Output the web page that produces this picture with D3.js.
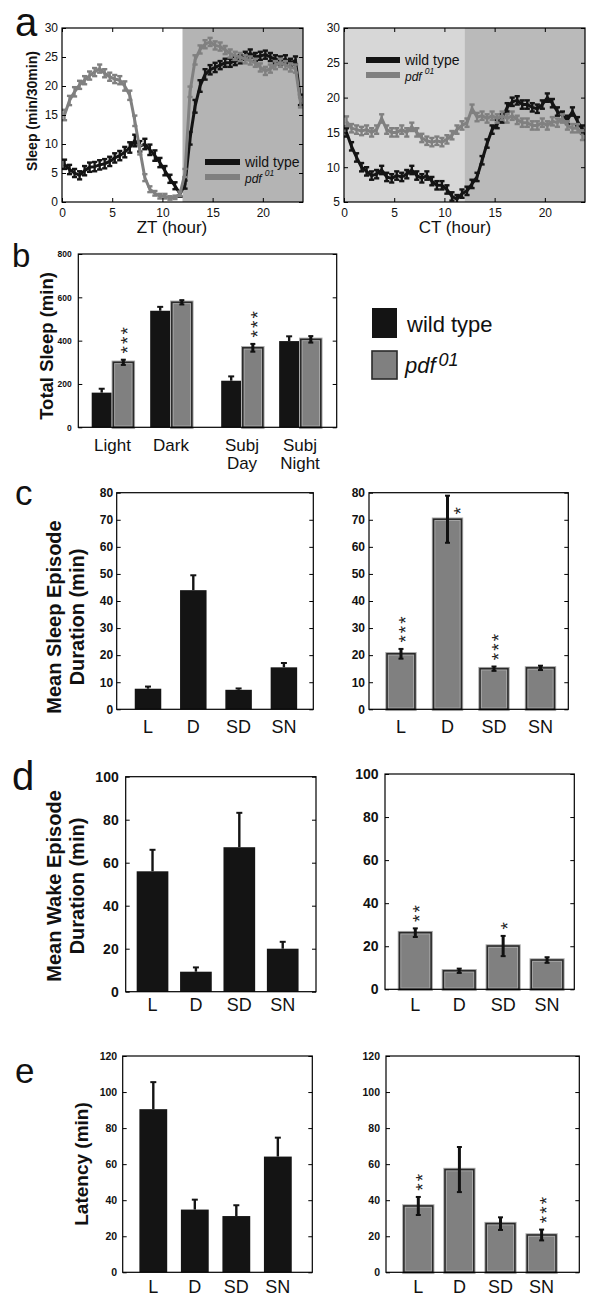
<!DOCTYPE html>
<html><head><meta charset="utf-8">
<script src="https://cdn.jsdelivr.net/npm/d3@7/dist/d3.min.js"></script>
<style>
body{margin:0;background:#fff}
svg{display:block}
text{font-family:"Liberation Sans",Arial,Helvetica,sans-serif}
</style>
</head><body>
<svg id="chart" width="600" height="1307"></svg>
<script>
// ---------------- DATA ----------------
const timeHours = [0.25,0.75,1.25,1.75,2.25,2.75,3.25,3.75,4.25,4.75,5.25,5.75,6.25,6.75,7.25,7.75,8.25,8.75,9.25,9.75,10.25,10.75,11.25,11.75,12.25,12.75,13.25,13.75,14.25,14.75,15.25,15.75,16.25,16.75,17.25,17.75,18.25,18.75,19.25,19.75,20.25,20.75,21.25,21.75,22.25,22.75,23.25,23.75];

const ztWildType = [6.5,5.6,5.0,4.6,5.4,6.0,6.1,6.4,6.6,7.0,7.6,8.0,8.6,9.4,10.6,9.6,10.0,9.0,8.0,6.8,5.4,4.0,2.8,1.4,3.0,11.0,16.5,20.0,22.0,22.8,23.2,23.6,24.0,24.0,24.3,24.6,25.2,25.6,25.0,25.2,25.4,25.0,24.6,24.4,24.6,24.0,24.4,17.6];
const ztWildTypeSem = [0.8,0.8,0.7,0.7,0.8,0.8,0.8,0.8,0.8,0.8,0.8,0.8,0.9,0.9,1.0,0.9,0.9,0.9,0.9,0.8,0.8,0.7,0.6,0.5,0.7,1.1,1.1,1.0,0.9,0.8,0.8,0.7,0.7,0.7,0.7,0.7,0.7,0.7,0.7,0.7,0.7,0.7,0.7,0.7,0.7,0.7,0.7,0.9];
const ztPdf = [15.0,17.5,19.0,20.2,21.0,21.8,22.4,23.0,22.2,21.6,21.2,21.0,20.0,18.4,14.0,9.0,4.2,2.2,1.5,1.0,1.0,0.7,0.8,1.4,5.0,19.0,24.5,26.3,27.2,27.6,27.0,26.8,26.2,25.6,25.2,25.0,24.6,24.4,24.0,23.2,22.6,23.0,23.6,24.0,23.6,23.2,23.0,17.2];
const ztPdfSem = [0.9,0.8,0.8,0.7,0.7,0.7,0.7,0.7,0.7,0.7,0.7,0.7,0.8,0.8,0.9,0.8,0.6,0.5,0.4,0.4,0.4,0.3,0.3,0.4,0.7,0.9,0.8,0.7,0.7,0.7,0.7,0.7,0.7,0.7,0.7,0.7,0.7,0.7,0.7,0.7,0.7,0.7,0.7,0.7,0.7,0.7,0.7,0.9];

const ctWildType = [15.0,13.0,11.4,10.0,9.4,8.8,9.0,9.6,8.6,8.4,8.8,8.6,9.0,9.6,8.8,8.4,8.8,8.0,7.4,7.4,6.8,5.8,5.4,6.2,6.6,7.6,8.6,11.0,13.4,15.4,16.2,17.0,18.6,19.4,19.6,19.0,19.0,18.6,18.4,19.0,20.0,19.2,18.0,17.4,16.8,18.0,16.6,15.4];
const ctWildTypeSem = [0.6,0.6,0.6,0.6,0.6,0.6,0.6,0.6,0.6,0.6,0.6,0.6,0.6,0.6,0.6,0.6,0.6,0.6,0.6,0.6,0.6,0.6,0.6,0.6,0.6,0.6,0.6,0.6,0.6,0.6,0.6,0.6,0.6,0.6,0.6,0.6,0.6,0.6,0.6,0.6,0.6,0.6,0.6,0.6,0.6,0.6,0.6,0.6];
const ctPdf = [16.6,15.6,15.4,15.2,15.4,15.0,15.4,17.0,15.4,15.0,15.0,15.4,15.0,15.8,15.0,14.2,13.8,13.6,13.8,13.6,14.0,14.6,15.4,16.0,16.4,18.4,17.2,17.4,17.0,17.4,17.0,17.4,17.0,17.4,16.8,16.4,16.4,16.0,16.0,16.4,16.0,16.6,16.4,17.0,16.0,15.6,15.6,14.6];
const ctPdfSem = [0.7,0.6,0.6,0.6,0.6,0.6,0.6,0.6,0.6,0.6,0.6,0.6,0.6,0.6,0.6,0.6,0.6,0.6,0.6,0.6,0.6,0.6,0.6,0.6,0.6,0.6,0.6,0.6,0.6,0.6,0.6,0.6,0.6,0.6,0.6,0.6,0.6,0.6,0.6,0.6,0.6,0.6,0.6,0.6,0.6,0.6,0.6,0.7];

const hourTicks = [0,5,10,15,20];
const ztSleepTicks = [0,5,10,15,20,25,30];
const ctSleepTicks = [5,10,15,20,25,30];

const totalSleepCategories = ["Light","Dark","Subj Day","Subj Night"];
const totalSleepWildType = [160,538,215,398];
const totalSleepWildTypeErr = [18,18,20,22];
const totalSleepPdf = [300,577,367,406];
const totalSleepPdfErr = [12,10,18,15];
const totalSleepSig = ["***","","***",""];
const totalSleepTicks = [0,200,400,600,800];

const episodeCategories = ["L","D","SD","SN"];
const sleepEpisodeWildType = [7.6,44,7.2,15.5];
const sleepEpisodeWildTypeErr = [0.8,5.5,0.5,1.6];
const sleepEpisodePdf = [20.5,70.2,15.0,15.3];
const sleepEpisodePdfErr = [1.8,8.7,0.8,0.8];
const sleepEpisodeSig = ["***","*","***",""];
const sleepEpisodeTicks = [0,10,20,30,40,50,60,70,80];

const wakeEpisodeWildType = [56,9.3,67.2,20];
const wakeEpisodeWildTypeErr = [10,2,16,3.2];
const wakeEpisodePdf = [26.3,8.6,20.1,13.6];
const wakeEpisodePdfErr = [2,1,4.7,1.3];
const wakeEpisodeSig = ["**","","*",""];
const wakeEpisodeTicks = [0,20,40,60,80,100];

const latencyWildType = [90.5,34.8,31.2,64.2];
const latencyWildTypeErr = [15,5.5,6,10.5];
const latencyPdf = [36.8,57,27,20.7];
const latencyPdfErr = [5,12.5,3.5,3];
const latencySig = ["**","","","***"];
const latencyTicks = [0,20,40,60,80,100,120];

// ---------------- STYLE ----------------
const WT = "#141414", PDF = "#808080";
const svg = d3.select("#chart");

function letter(t, x, y, fs){
  svg.append("text").attr("x",x).attr("y",y).attr("font-size",fs).attr("fill","#111").text(t);
}
function yLabel(lines, xs, cy, fs){
  lines.forEach((l,i)=>{
    svg.append("text").attr("transform",`translate(${xs[i]},${cy}) rotate(-90)`)
      .attr("text-anchor","middle").attr("font-size",fs).attr("font-weight","bold").attr("fill","#111").text(l);
  });
}
function styleAxis(g, fs, bold){
  g.select(".domain").remove();
  g.selectAll(".tick line").attr("stroke","#000").attr("stroke-width",1);
  g.selectAll(".tick text").attr("font-size",fs).attr("font-weight",bold?"bold":"normal")
    .attr("font-family",'"Liberation Sans",Arial,sans-serif').attr("fill","#111");
}
function frame(x0,x1,y0,y1){
  svg.append("rect").attr("x",x0).attr("y",y0).attr("width",x1-x0).attr("height",y1-y0)
    .attr("fill","none").attr("stroke","#000").attr("stroke-width",1.2);
}

// ---------------- PANEL A ----------------
function timePanel(o){
  const x = d3.scaleLinear().domain([0,24]).range([o.x0,o.x1]);
  const y = d3.scaleLinear().domain(o.yDomain).range([o.y1,o.y0]);
  o.shades.forEach(s=>{
    svg.append("rect").attr("x",x(s.from)).attr("y",o.y0).attr("width",x(s.to)-x(s.from))
      .attr("height",o.y1-o.y0).attr("fill",s.color);
  });
  svg.append("clipPath").attr("id",o.id).append("rect")
    .attr("x",o.x0).attr("y",o.y0).attr("width",o.x1-o.x0).attr("height",o.y1-o.y0);
  const g = svg.append("g").attr("clip-path",`url(#${o.id})`);
  const series = [
    {v:o.wt, e:o.wtErr, c:WT},
    {v:o.pdf, e:o.pdfErr, c:PDF}
  ];
  series.forEach(s=>{
    const pts = timeHours.map((h,i)=>({h, v:s.v[i], e:s.e[i]}));
    g.append("path").datum(pts).attr("fill","none").attr("stroke",s.c).attr("stroke-width",3)
      .attr("d", d3.line().x(d=>x(d.h)).y(d=>y(d.v)));
    const eb = g.append("g").attr("stroke",s.c).attr("stroke-width",2.4);
    pts.forEach(d=>{
      const cx = x(d.h), yt = y(d.v+d.e), yb = y(d.v-d.e);
      eb.append("line").attr("x1",cx).attr("x2",cx).attr("y1",yt).attr("y2",yb);
      eb.append("line").attr("x1",cx-2.6).attr("x2",cx+2.6).attr("y1",yt).attr("y2",yt);
      eb.append("line").attr("x1",cx-2.6).attr("x2",cx+2.6).attr("y1",yb).attr("y2",yb);
    });
  });
  // axes (inward ticks)
  styleAxis(svg.append("g").attr("transform",`translate(${o.x0},0)`)
    .call(d3.axisLeft(y).tickValues(o.yTicks).tickSizeInner(-4).tickSizeOuter(0).tickPadding(4).tickFormat(d3.format("d"))), 12, false);
  styleAxis(svg.append("g").attr("transform",`translate(${o.x1},0)`)
    .call(d3.axisRight(y).tickValues(o.yTicks).tickSizeInner(-4).tickSizeOuter(0).tickFormat("")), 12, false);
  const bx = svg.append("g").attr("transform",`translate(0,${o.y1})`)
    .call(d3.axisBottom(x).tickValues(hourTicks).tickSizeInner(-4).tickSizeOuter(0).tickPadding(6.5).tickFormat(d3.format("d")));
  styleAxis(bx, 12, false);
  styleAxis(svg.append("g").attr("transform",`translate(0,${o.y0})`)
    .call(d3.axisTop(x).tickValues(hourTicks).tickSizeInner(-4).tickSizeOuter(0).tickFormat("")), 12, false);
  frame(o.x0,o.x1,o.y0,o.y1);
  svg.append("text").attr("x",o.xLabelX).attr("y",233).attr("text-anchor","middle")
    .attr("font-size",17).attr("fill","#111").text(o.xLabel);
  // legend
  const L = o.legend;
  svg.append("line").attr("x1",L.x).attr("x2",L.x+L.len).attr("y1",L.y1).attr("y2",L.y1).attr("stroke",WT).attr("stroke-width",6);
  svg.append("line").attr("x1",L.x).attr("x2",L.x+L.len).attr("y1",L.y2).attr("y2",L.y2).attr("stroke",PDF).attr("stroke-width",6);
  svg.append("text").attr("x",L.tx).attr("y",L.y1+5).attr("font-size",14).attr("fill","#111").text("wild type");
  const t = svg.append("text").attr("x",L.tx).attr("y",L.y2+6).attr("font-size",12).attr("font-style","italic").attr("fill","#111");
  t.append("tspan").text("pdf");
  t.append("tspan").attr("dx",3).attr("dy",-7).attr("font-size",8.5).text("01");
}

timePanel({id:"clipZT", x0:62, x1:303, y0:28, y1:202, yDomain:[0,30], yTicks:ztSleepTicks,
  shades:[{from:12,to:24,color:"#b4b4b4"}],
  wt:ztWildType, wtErr:ztWildTypeSem, pdf:ztPdf, pdfErr:ztPdfSem,
  xLabel:"ZT (hour)", xLabelX:172,
  legend:{x:205, len:35, y1:162, y2:177, tx:245}});
timePanel({id:"clipCT", x0:344, x1:585, y0:28, y1:202, yDomain:[5,30], yTicks:ctSleepTicks,
  shades:[{from:0,to:12,color:"#d7d7d7"},{from:12,to:24,color:"#bababa"}],
  wt:ctWildType, wtErr:ctWildTypeSem, pdf:ctPdf, pdfErr:ctPdfSem,
  xLabel:"CT (hour)", xLabelX:455,
  legend:{x:366, len:34, y1:60, y2:75, tx:405}});
letter("a", 15, 36, 40);
yLabel(["Sleep (min/30min)"], [37], 111, 14);

// ---------------- BAR PANELS ----------------
// significance stars: one rotated text so the stack reads bottom-to-top
function stars(g, str, cx, bottomCy){
  const fs = 19;
  g.append("text")
    .attr("transform",`translate(${cx + 0.58*fs},${bottomCy + 0.2*fs*0 + 3.7}) rotate(-90)`)
    .attr("font-size",fs).attr("letter-spacing",2.1).attr("fill","#222").text(str);
}
function barPanel(o){
  const x = d3.scaleLinear().domain(o.xDomain).range([o.x0,o.x1]);
  const y = d3.scaleLinear().domain([0,o.yMax]).range([o.y1,o.y0]);
  const g = svg.append("g");
  const wpx = x(o.barW) - x(0);
  o.series.forEach(s=>{
    s.values.forEach((v,i)=>{
      const cx = x(o.positions[i] + (s.offset||0));
      const top = y(v), base = y(0);
      if (s.kind === "wt"){
        g.append("rect").attr("x",cx-wpx/2).attr("y",top).attr("width",wpx).attr("height",base-top).attr("fill",WT);
        const et = y(v + s.errs[i]);
        g.append("line").attr("x1",cx).attr("x2",cx).attr("y1",top).attr("y2",et).attr("stroke",WT).attr("stroke-width",2.4);
        g.append("line").attr("x1",cx-3).attr("x2",cx+3).attr("y1",et).attr("y2",et).attr("stroke",WT).attr("stroke-width",2);
      } else {
        g.append("rect").attr("x",cx-wpx/2).attr("y",top).attr("width",wpx).attr("height",base-top)
          .attr("fill",PDF).attr("stroke","#a9a9a9").attr("stroke-width",3.5);
        g.append("rect").attr("x",cx-wpx/2).attr("y",top).attr("width",wpx).attr("height",base-top)
          .attr("fill","none").attr("stroke","#2a2a2a").attr("stroke-width",1.6);
        const et = y(v + s.errs[i]), eb = y(v - s.errs[i]);
        g.append("line").attr("x1",cx).attr("x2",cx).attr("y1",eb).attr("y2",et).attr("stroke","#111").attr("stroke-width",3);
        g.append("line").attr("x1",cx-2.5).attr("x2",cx+2.5).attr("y1",et).attr("y2",et).attr("stroke","#111").attr("stroke-width",2);
        g.append("line").attr("x1",cx-2.5).attr("x2",cx+2.5).attr("y1",eb).attr("y2",eb).attr("stroke","#111").attr("stroke-width",2);
        const sig = s.sig ? s.sig[i] : "";
        if (sig){
          const n = sig.length;
          const firstCy = et - 10;
          const topCy = firstCy - (n-1)*9.5;
          if (topCy < o.y0 + 6){
            stars(g, sig, cx + 8, et + 15);
          } else {
            stars(g, sig, cx, firstCy);
          }
        }
      }
    });
  });
  styleAxis(svg.append("g").attr("transform",`translate(${o.x0},0)`)
    .call(d3.axisLeft(y).tickValues(o.ticks).tickSizeInner(-4).tickSizeOuter(0).tickPadding(o.tickPad).tickFormat(d3.format("d"))), o.tickFont, true);
  styleAxis(svg.append("g").attr("transform",`translate(${o.x1},0)`)
    .call(d3.axisRight(y).tickValues(o.ticks).tickSizeInner(-4).tickSizeOuter(0).tickFormat("")), o.tickFont, true);
  frame(o.x0,o.x1,o.y0,o.y1);
  o.categories.forEach((c,i)=>{
    const t = svg.append("text").attr("x",x(o.positions[i])).attr("y",o.y1+o.labelDy)
      .attr("text-anchor","middle").attr("font-size",o.labelFont).attr("fill","#111");
    c.split(" ").forEach((w,k)=>{
      t.append("tspan").attr("x",x(o.positions[i])).attr("dy",k===0?0:o.lineH||18).text(w);
    });
  });
}

// panel b
barPanel({x0:78.3, x1:336.7, y0:254, y1:427.3, xDomain:[0.415,4.833], positions:[1,2,3.214,4.205],
  barW:0.342, yMax:800, ticks:totalSleepTicks, tickFont:8.5, tickPad:6.5, labelFont:17, labelDy:23.5, lineH:18,
  categories:totalSleepCategories,
  series:[
    {kind:"wt", values:totalSleepWildType, errs:totalSleepWildTypeErr, offset:-0.185},
    {kind:"pdf", values:totalSleepPdf, errs:totalSleepPdfErr, offset:0.185, sig:totalSleepSig}
  ]});
letter("b", 12, 267, 33);
yLabel(["Total Sleep (min)"], [53], 346, 18.5);
// legend b
svg.append("rect").attr("x",372).attr("y",308).attr("width",25).attr("height",30).attr("fill",WT);
svg.append("rect").attr("x",372).attr("y",351).attr("width",25).attr("height",28).attr("fill",PDF)
  .attr("stroke","#2a2a2a").attr("stroke-width",1.6);
svg.append("text").attr("x",407).attr("y",332).attr("font-size",22).attr("fill","#111").text("wild type");
{
  const t = svg.append("text").attr("x",405).attr("y",373).attr("font-size",22).attr("font-style","italic").attr("fill","#111");
  t.append("tspan").text("pdf");
  t.append("tspan").attr("dx",3).attr("dy",-7).attr("font-size",18).text("01");
}

// panel c
barPanel({x0:116.7, x1:313.3, y0:492.7, y1:709.3, xDomain:[0.309,4.649], positions:[1,2,3,4],
  barW:0.585, yMax:80, ticks:sleepEpisodeTicks, tickFont:12, tickPad:3.5, labelFont:18, labelDy:24,
  categories:episodeCategories,
  series:[{kind:"wt", values:sleepEpisodeWildType, errs:sleepEpisodeWildTypeErr}]});
barPanel({x0:369, x1:568.3, y0:492.7, y1:709.3, xDomain:[0.312,4.598], positions:[1,2,3,4],
  barW:0.6, yMax:80, ticks:sleepEpisodeTicks, tickFont:12, tickPad:4, labelFont:18, labelDy:24,
  categories:episodeCategories,
  series:[{kind:"pdf", values:sleepEpisodePdf, errs:sleepEpisodePdfErr, sig:sleepEpisodeSig}]});
letter("c", 15, 505, 35);
yLabel(["Mean Sleep Episode","Duration (min)"], [61,84], 617, 20);

// panel d
barPanel({x0:125.7, x1:316, y0:776.7, y1:991.7, xDomain:[0.382,4.767], positions:[1,2,3,4],
  barW:0.73, yMax:100, ticks:wakeEpisodeTicks, tickFont:14, tickPad:7, labelFont:18, labelDy:19.5,
  categories:episodeCategories,
  series:[{kind:"wt", values:wakeEpisodeWildType, errs:wakeEpisodeWildTypeErr}]});
barPanel({x0:385, x1:574.3, y0:774, y1:989.3, xDomain:[0.31,4.62], positions:[1,2,3,4],
  barW:0.72, yMax:100, ticks:wakeEpisodeTicks, tickFont:14, tickPad:6.5, labelFont:18, labelDy:21.5,
  categories:episodeCategories,
  series:[{kind:"pdf", values:wakeEpisodePdf, errs:wakeEpisodePdfErr, sig:wakeEpisodeSig}]});
letter("d", 12, 790, 40);
yLabel(["Mean Wake Episode","Duration (min)"], [61,84], 886, 20);

// panel e
barPanel({x0:122.7, x1:312.3, y0:1056, y1:1272.3, xDomain:[0.263,4.83], positions:[1,2,3,4],
  barW:0.67, yMax:120, ticks:latencyTicks, tickFont:10.5, tickPad:5.5, labelFont:18, labelDy:21,
  categories:episodeCategories,
  series:[{kind:"wt", values:latencyWildType, errs:latencyWildTypeErr}]});
barPanel({x0:386, x1:579.3, y0:1056, y1:1272.3, xDomain:[0.214,4.917], positions:[1,2,3,4],
  barW:0.70, yMax:120, ticks:latencyTicks, tickFont:10.5, tickPad:6, labelFont:18, labelDy:21,
  categories:episodeCategories,
  series:[{kind:"pdf", values:latencyPdf, errs:latencyPdfErr, sig:latencySig}]});
letter("e", 15, 1083, 35);
yLabel(["Latency (min)"], [88], 1164, 19);
</script>
</body></html>
